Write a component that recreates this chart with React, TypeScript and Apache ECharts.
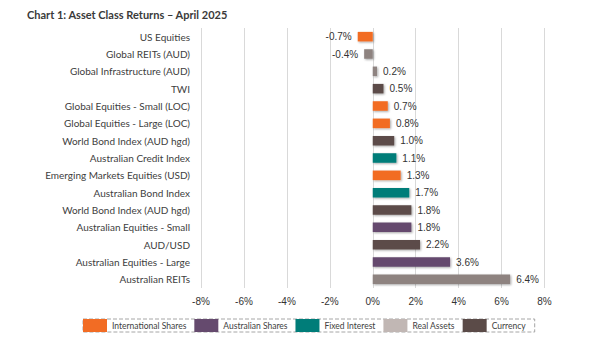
import React, { useEffect, useRef } from "react";
import * as echarts from "echarts";

const categories = [
  "US Equities",
  "Global REITs (AUD)",
  "Global Infrastructure (AUD)",
  "TWI",
  "Global Equities - Small (LOC)",
  "Global Equities - Large (LOC)",
  "World Bond Index (AUD hgd)",
  "Australian Credit Index",
  "Emerging Markets Equities (USD)",
  "Australian Bond Index",
  "World Bond Index (AUD hgd)",
  "Australian Equities - Small",
  "AUD/USD",
  "Australian Equities - Large",
  "Australian REITs",
];
const returns = [-0.7, -0.4, 0.2, 0.5, 0.7, 0.8, 1.0, 1.1, 1.3, 1.7, 1.8, 1.8, 2.2, 3.6, 6.4];
const assetClass = [
  "International Shares",
  "Real Assets",
  "Real Assets",
  "Currency",
  "International Shares",
  "International Shares",
  "Currency",
  "Fixed Interest",
  "International Shares",
  "Fixed Interest",
  "Currency",
  "Australian Shares",
  "Currency",
  "Australian Shares",
  "Real Assets",
];
const classNames = ["International Shares", "Australian Shares", "Fixed Interest", "Real Assets", "Currency"];
const classLegendColors = ["#F26C24", "#654A6E", "#007D79", "#C1B7B4", "#5B4B48"];
const classBarColors = ["#F26C24", "#654A6E", "#007D79", "#8E8380", "#5B4B48"];

const LABEL_FONT = "Lato";
const NUM_FONT = "Liberation Sans";

export default function App() {
  const ref = useRef<HTMLDivElement>(null);
  useEffect(() => {
    document.body.style.margin = "0";
    const chart = echarts.init(ref.current!, null, { renderer: "svg" });
    const series = classNames.map((cls, ci) => ({
      name: cls,
      type: "bar",
      barWidth: "55%",
      barGap: "-100%",
      itemStyle: {
        color: classLegendColors[ci],
        shadowBlur: 2,
        shadowColor: "rgba(0,0,0,0.35)",
        shadowOffsetX: 1,
        shadowOffsetY: 1,
      },
      label: {
        show: true,
        fontFamily: NUM_FONT,
        fontSize: 10,
        color: "#333333",
        distance: 6,
        formatter: (p: any) => Number(p.value).toFixed(1) + "%",
      },
      data: returns.map((v, i) =>
        assetClass[i] === cls
          ? {
              value: v,
              itemStyle: { color: classBarColors[ci] },
              label: { position: v < 0 ? "left" : "right" },
            }
          : "-"
      ),
    }));
    chart.setOption({
      animation: false,
      title: {
        text: "Chart 1: Asset Class Returns – April 2025",
        left: 22,
        top: 4,
        textStyle: { fontFamily: LABEL_FONT, fontSize: 11, fontWeight: "bold", color: "#3A3A3A" },
      },
      grid: { left: 201, right: 57.5, top: 28, bottom: 64, containLabel: false },
      legend: {
        data: classNames,
        left: 83,
        top: 319,
        itemWidth: 24,
        itemHeight: 13,
        itemGap: 8,
        padding: [0, 9, 0, 0],
        borderColor: "#A6A6A6",
        borderWidth: 1,
        borderType: "dashed",
        icon: "rect",
        textStyle: { fontFamily: LABEL_FONT, fontSize: 8.5, color: "#404040" },
      },
      xAxis: {
        type: "value",
        min: -8,
        max: 8,
        interval: 2,
        axisLine: { show: false },
        axisTick: { show: false },
        splitLine: { show: true, lineStyle: { color: "#D9D9D9", width: 1 } },
        axisLabel: {
          formatter: "{value}%",
          fontFamily: NUM_FONT,
          fontSize: 10,
          color: "#333333",
          margin: 8,
        },
      },
      yAxis: {
        type: "category",
        data: categories,
        inverse: true,
        axisLine: { show: false, onZero: false },
        axisTick: { show: false },
        axisLabel: { fontFamily: LABEL_FONT, fontSize: 10, color: "#404040", margin: 11 },
      },
      series,
    });
    return () => chart.dispose();
  }, []);
  return <div ref={ref} style={{ width: 602, height: 352 }} />;
}
